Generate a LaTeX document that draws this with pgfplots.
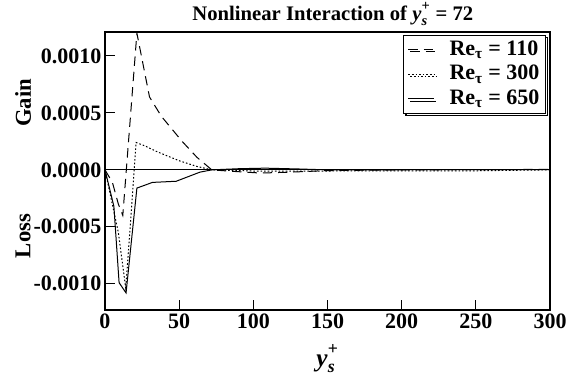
\documentclass[border=0pt]{standalone}
\usepackage{fontspec}
\setmainfont{Liberation Serif}
\usepackage{amsmath}
\usepackage{pgfplots}
\pgfplotsset{compat=1.18}
\usetikzlibrary{shadows}

% bold italic y with subscript s and a raised superscript +
\newcommand{\ysplus}{$\textbf{\textit{y}}_{\textbf{\textit{s}}}^{\textbf{\raisebox{0.2em}{+}}}$}

\begin{document}
\begin{tikzpicture}
\path[use as bounding box] (-78.75pt,-52.5pt) rectangle (354pt,232.5pt);
\begin{axis}[
  name=ax, at={(0,0)}, anchor=south west,
  scale only axis, width=333.75pt, height=208.5pt,
  xmin=0, xmax=300, ymin=-0.00123, ymax=0.00121,
  xtick={0,50,...,300},
  ytick={-0.001,-0.0005,0,0.0005,0.001},
  scaled y ticks=false,
  /pgf/number format/assume math mode=true,
  yticklabel style={/pgf/number format/.cd, fixed, fixed zerofill, precision=4},
  tick align=inside, xtick pos=bottom, ytick pos=left,
  major tick length=7.5pt,
  tick style={line width=0.8pt, black},
  axis line style={line width=1pt},
  ticklabel style={font=\fontsize{16.5}{19}\selectfont\bfseries, inner sep=2.5pt},
  legend cell align=left,
  legend image code/.code={\draw[#1] (0pt,0pt) -- (19pt,0pt);},
  legend style={
    at={(1,1)}, anchor=north east, xshift=-3pt, yshift=-2pt,
    font=\fontsize{16.5}{19}\selectfont\bfseries,
    draw=black, line width=0.8pt, fill=white,
    drop shadow={shadow xshift=1.6pt, shadow yshift=-1.6pt, draw=black, fill=white, opacity=1},
    row sep=0pt, inner xsep=3pt, inner ysep=1.5pt,
    nodes={text height=12pt, text depth=3.5pt, inner sep=1.5pt},
    /tikz/every odd column/.append style={column sep=10pt},
  },
]
% zero reference line
\addplot[black, line width=0.6pt, forget plot] coordinates {(0,0) (300,0)};

% Re_tau = 110
\addplot[black, line width=0.75pt, dash pattern=on 7pt off 4.5pt] coordinates {
  (0,0) (5,-0.00011) (9,-0.00030) (12,-0.00040) (21.5,0.00120) (30,0.00064)
  (38,0.00047) (52,0.00025) (62,0.00011) (72,0) (85,-0.000012) (105,-0.000028)
  (125,-0.00002) (150,-0.000006) (200,0) (300,0.000004)
};
\addlegendentry{Re\textsubscript{τ} = 110}

% Re_tau = 300
\addplot[black, line width=0.75pt, dash pattern=on 1.2pt off 1.5pt] coordinates {
  (0,0) (9,-0.00055) (14,-0.00104) (21,0.00024) (27,0.00021) (35,0.00016)
  (50,0.00008) (62,0.00003) (72,0) (100,-0.00001) (150,-0.00001)
  (250,-0.000008) (300,0)
};
\addlegendentry{Re\textsubscript{τ} = 300}

% Re_tau = 650
\addplot[black, line width=0.75pt] coordinates {
  (0,0) (6,-0.00032) (9.5,-0.00099) (14.2,-0.00108) (21.5,-0.00016)
  (32,-0.00011) (48,-0.00010) (64,-0.00002) (72,0) (90,0.00001)
  (108,0.000015) (130,0.000008) (150,0) (300,0.000003)
};
\addlegendentry{Re\textsubscript{τ} = 650}
\end{axis}

\node[anchor=base, xshift=4pt, yshift=9pt, font=\fontsize{15.5}{18}\selectfont\bfseries]
  at (ax.north) {Nonlinear Interaction of \ysplus{} = 72};
\node[anchor=base, yshift=-42pt, font=\fontsize{19}{22}\selectfont]
  at (ax.south) {\ysplus};
\node[rotate=90, font=\fontsize{17}{19}\selectfont\bfseries]
  at ([xshift=-61.5pt, yshift=155.25pt]ax.south west) {Gain};
\node[rotate=90, font=\fontsize{17}{19}\selectfont\bfseries]
  at ([xshift=-61.5pt, yshift=55.5pt]ax.south west) {Loss};
\end{tikzpicture}
\end{document}
